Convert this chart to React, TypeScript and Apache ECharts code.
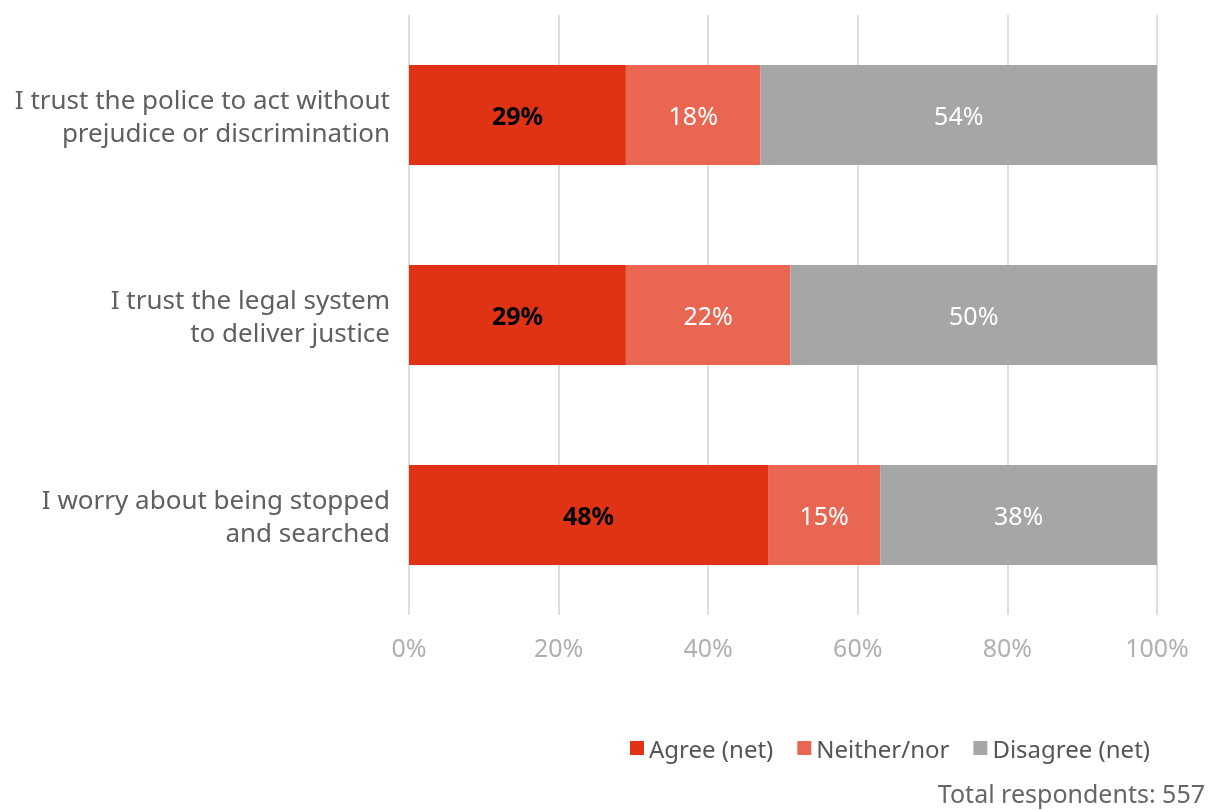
import React, { useEffect, useRef } from "react";
import * as echarts from "echarts";

const categories = [
  "I trust the police to act without\nprejudice or discrimination",
  "I trust the legal system\nto deliver justice",
  "I worry about being stopped\nand searched",
];
const agree = [29, 29, 48];
const neither = [18, 22, 15];
const disagree = [54, 50, 38];
const seriesNames = ["Agree (net)", "Neither/nor", "Disagree (net)"];
const colors = ["#E03316", "#E96752", "#A6A6A8"];
const note = "Total respondents: 557";

const FONT = "'Noto Sans', sans-serif";

export default function App() {
  const ref = useRef<HTMLDivElement>(null);
  useEffect(() => {
    if (!ref.current) return;
    const chart = echarts.init(ref.current, null, { renderer: "svg" });
    const mk = (name: string, data: number[], color: string, bold: boolean) => ({
      name,
      type: "bar",
      stack: "total",
      data,
      barWidth: 100,
      clip: true,
      itemStyle: { color },
      label: {
        show: true,
        position: "inside",
        formatter: "{c}%",
        fontFamily: FONT,
        fontSize: 25,
        fontWeight: bold ? "bold" : "normal",
        color: bold ? "#000000" : "#ffffff",
      },
    });
    chart.setOption({
      animation: false,
      textStyle: { fontFamily: FONT },
      grid: { left: 409, right: 51, top: 15, bottom: 195, containLabel: false },
      xAxis: {
        type: "value",
        min: 0,
        max: 100,
        interval: 20,
        axisLine: { show: false },
        axisTick: { show: false },
        splitLine: { show: true, lineStyle: { color: "#dedede", width: 2 } },
        axisLabel: {
          formatter: "{value}%",
          fontFamily: FONT,
          fontSize: 25,
          color: "#b0b0b0",
          margin: 19,
        },
      },
      yAxis: {
        type: "category",
        data: categories,
        inverse: true,
        axisLine: { show: false },
        axisTick: { show: false },
        axisLabel: {
          fontFamily: FONT,
          fontSize: 26,
          color: "#606060",
          margin: 19,
          lineHeight: 33,
          align: "right",
        },
      },
      legend: {
        data: seriesNames,
        right: 53,
        top: 731,
        icon: "rect",
        itemWidth: 14,
        itemHeight: 14,
        itemGap: 24,
        textStyle: { fontFamily: FONT, fontSize: 24, color: "#555555" },
      },
      graphic: [
        {
          type: "text",
          right: 3,
          top: 780,
          style: { text: note, fontFamily: FONT, fontSize: 25, fill: "#666666" },
        },
      ],
      series: [
        mk(seriesNames[0], agree, colors[0], true),
        mk(seriesNames[1], neither, colors[1], false),
        mk(seriesNames[2], disagree, colors[2], false),
      ],
    });
    return () => chart.dispose();
  }, []);
  return (
    <div
      ref={ref}
      style={{ position: "fixed", left: 0, top: 0, width: 1208, height: 810 }}
    />
  );
}
